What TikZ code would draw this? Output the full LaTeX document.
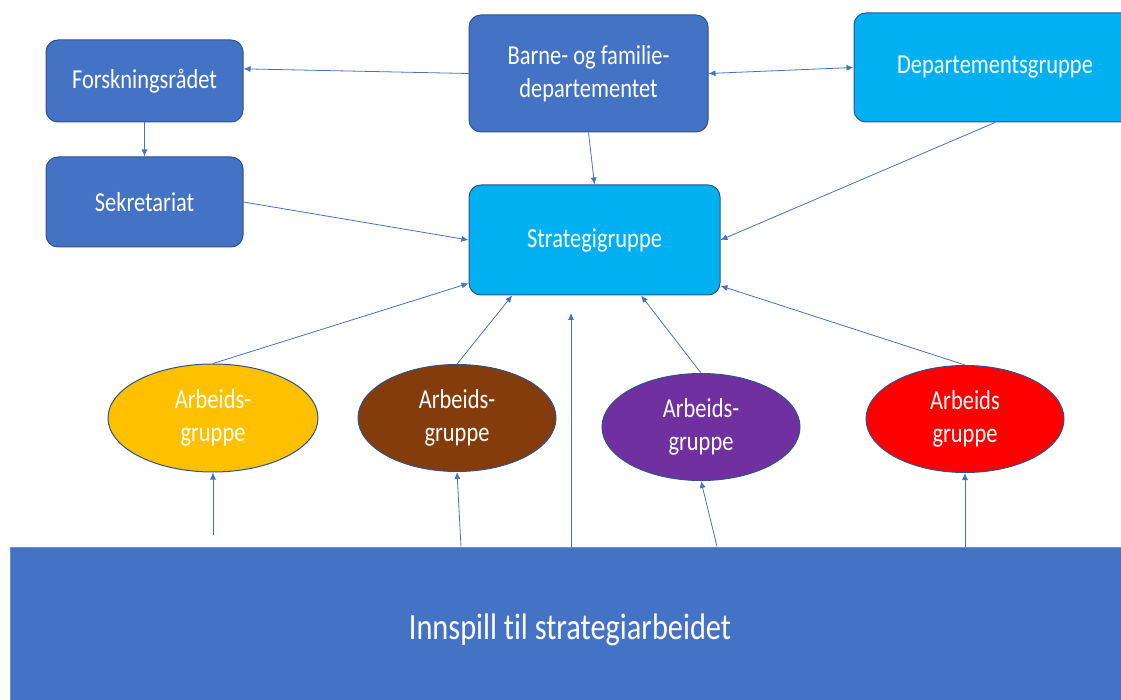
\documentclass[tikz,border=0pt]{standalone}
\usepackage{fontspec}
\setmainfont{Carlito}[FakeStretch=0.82, Ligatures=NoCommon]
\usetikzlibrary{shapes.geometric,arrows.meta}
\definecolor{boxblue}{HTML}{4472C4}
\definecolor{edgeblue}{HTML}{2F528F}
\definecolor{skyblue}{HTML}{00B0F0}
\definecolor{gold}{HTML}{FFC000}
\definecolor{rust}{HTML}{843C0C}
\definecolor{plum}{HTML}{7030A0}
\definecolor{signal}{HTML}{FF0000}

\tikzset{
  box/.style={draw=edgeblue, line width=1pt, rounded corners=12pt, fill=boxblue,
    text=white, align=center, inner sep=0pt, font=\fontsize{27.4}{33}\selectfont},
  group/.style={ellipse, draw=edgeblue, line width=1pt, minimum width=198pt,
    minimum height=107pt, inner sep=0pt, text=white, align=center,
    font=\fontsize{27.4}{33}\selectfont},
  link/.style={draw=boxblue, line width=0.8pt, -{Latex[length=7pt,width=6pt]}}
}

\begin{document}
\begin{tikzpicture}[x=1pt,y=1pt]
\useasboundingbox (0,0) rectangle (1121,-700);

\node (forsk) [box, minimum width=197pt, minimum height=82pt] at (144.5,-81) {Forskningsrådet};
\node (sek) [box, minimum width=197pt, minimum height=90pt] at (144.5,-202) {Sekretariat};
\node (barne) [box, minimum width=239pt, minimum height=117pt] at (588.5,-73.5) {Barne- og familie-\\departementet};
\node (dept) [box, fill=skyblue, minimum width=282pt, minimum height=109pt] at (995,-67.5) {Departementsgruppe};
\node (strategi) [box, fill=skyblue, minimum width=251pt, minimum height=110pt] at (594.5,-240) {Strategigruppe};

\node (yellow) [group, fill=gold, minimum width=210pt, minimum height=108pt] at (213,-418) {Arbeids-\\gruppe};
\node (brown) [group, fill=rust] at (457,-418) {Arbeids-\\gruppe};
\node (purple) [group, fill=plum] at (701,-427) {Arbeids-\\gruppe};
\node (red) [group, fill=signal] at (965,-419) {Arbeids\\gruppe};

\node (innspill) [draw=boxblue!80!white, line width=1pt, fill=boxblue, text=white,
  minimum width=1120pt, minimum height=166pt, inner sep=0pt,
  font=\fontsize{37}{42}\selectfont] at (570,-630) {Innspill til strategiarbeidet};

\coordinate (gap) at (571,-313);
\coordinate (tail) at (213,-535);

\draw [link] (barne.west) -- (forsk.7);
\draw [link, {Latex[length=7pt,width=6pt]}-{Latex[length=7pt,width=6pt]}] (barne.east) -- (dept.west);
\draw [link] (forsk.south) -- (sek.north);
\draw [link] (barne.south) -- (strategi.north);
\draw [link] (sek.east) -- (strategi.west);
\draw [link] (dept.south) -- (strategi.east);

\draw [link] (yellow.north) -- (strategi.199);
\draw [link] (brown.north) -- (strategi.214);
\draw [link] (purple.north) -- (strategi.310);
\draw [link] (red.north) -- (strategi.340);
\draw [link] (gap |- innspill.north) -- (gap);

\draw [link] (tail) -- (yellow.south);
\draw [link] ([xshift=4pt]brown.south |- innspill.north) -- (brown.south);
\draw [link] ([xshift=16pt]purple.south |- innspill.north) -- (purple.south);
\draw [link] (red.south |- innspill.north) -- (red.south);
\end{tikzpicture}
\end{document}
